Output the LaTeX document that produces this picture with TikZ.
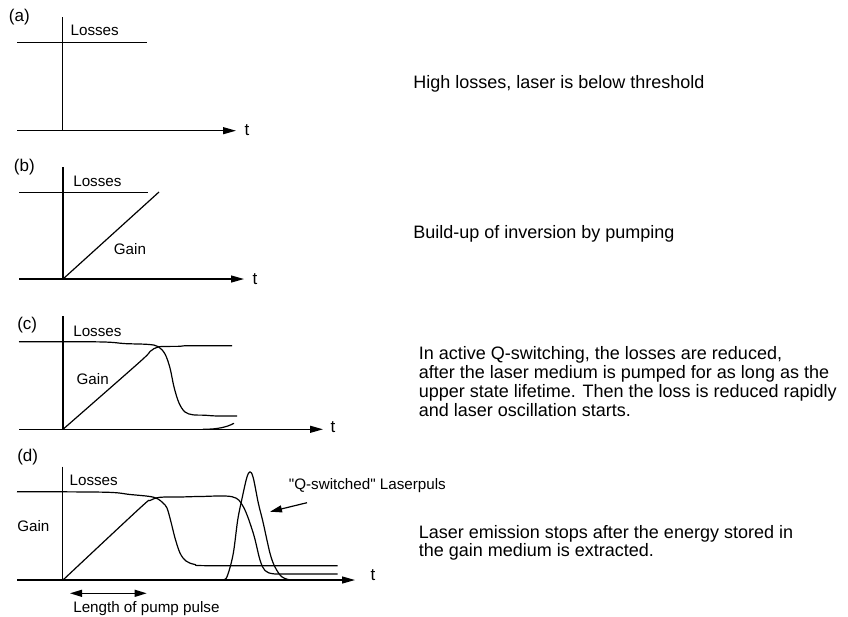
\documentclass[tikz,border=0pt]{standalone}
\usepackage{fontspec}
\setmainfont{Liberation Sans}
\newfontfamily\qfont{Liberation Sans}
\usetikzlibrary{arrows.meta}
\begin{document}
\begin{tikzpicture}[x=1pt,y=-1pt, line width=1.2pt, line join=round,
  lbl/.style={inner sep=0pt, anchor=base west, font=\fontsize{15.2}{18}\selectfont},
  tag/.style={inner sep=0pt, anchor=base west, font=\fontsize{17}{20}\selectfont},
  desc/.style={inner sep=0pt, anchor=base west, font=\fontsize{18}{19}\selectfont},
  axisarrow/.style={-{Triangle[length=13pt,width=7pt]}},
  ptr/.style={-{Triangle[length=12pt,width=7pt]}},
  dbl/.style={{Triangle[length=12pt,width=7pt]}-{Triangle[length=12pt,width=7pt]}},
  curve/.style={smooth, tension=0.55}]
\path[use as bounding box] (0,0) rectangle (848,616);

% ---------- (a)
\node[tag] (ta) at (8.3,21.5) {(a)};
\coordinate (a0) at (62.7,130.7);
\coordinate (atop) at (62.7,17);
\coordinate (aleft) at (17,130.7);
\coordinate (aend) at (236,130.7);
\draw (atop) -- (a0);
\draw[axisarrow] (aleft) -- (aend);
\coordinate (aL1) at (17,42.3);
\coordinate (aL2) at (147,42.3);
\draw (aL1) -- (aL2);
\node[lbl] (aloss) at (70,35.7) {Losses};
\node[tag] (at) at (244,135) {t};
\node[desc] (adesc) at (412.7,88.3) {High losses, laser is below threshold};

% ---------- (b)
\node[tag] (tb) at (13.3,171.5) {(b)};
\coordinate (b0) at (63,279);
\coordinate (btop) at (63,167);
\coordinate (bleft) at (19,279);
\coordinate (bend) at (244,279);
\draw (btop) -- (b0);
\draw[axisarrow] (bleft) -- (bend);
\coordinate (bL1) at (19,192.7);
\coordinate (bL2) at (148,192.7);
\draw (bL1) -- (bL2);
\coordinate (bG) at (159,192);
\draw (b0) -- (bG);
\node[lbl] (bloss) at (72.7,186) {Losses};
\node[lbl] (bgain) at (113.3,254.3) {Gain};
\node[tag] (bt) at (252,284) {t};
\node[desc] (bdesc) at (412.7,238.3) {Build-up of inversion by pumping};

% ---------- (c)
\node[tag] (tc) at (16.7,329.5) {(c)};
\coordinate (c0) at (63,429.3);
\coordinate (ctop) at (63,316);
\coordinate (cleft) at (19,429.3);
\coordinate (cend) at (323,429.3);
\draw (ctop) -- (c0);
\draw[axisarrow] (cleft) -- (cend);
% losses
\draw plot[curve] coordinates {(19,341.7) (100,341.9) (125,343.6) (148,344.4) (158,346.5) (165,354) (170,368) (174,387) (179,403) (185,412) (193,414.8) (205,415.2) (215,415.9) (237,415.9)};
% gain
\draw plot[curve] coordinates {(63,429.3) (140,361.7) (150,351.5) (158,347) (170,346.4) (180,346.3) (185,345.7) (200,345.7) (232,345.7)};
% beginning pulse
\draw (203,429.3) .. controls (218,429.3) and (227,427) .. (234,423.3);
\node[lbl] (closs) at (72.7,336) {Losses};
\node[lbl] (cgain) at (76,384) {Gain};
\node[tag] (ct) at (330,432) {t};
\node[desc] (cd1) at (418.3,359) {In active Q-switching, the losses are reduced,};
\node[desc] (cd2) at (418.3,378) {after the laser medium is pumped for as long as the};
\node[desc] (cd3) at (418.3,397) {upper state lifetime. Then the loss is reduced rapidly};
\node[desc] (cd4) at (418.3,416) {and laser oscillation starts.};

% ---------- (d)
\node[tag] (td) at (16.7,461.5) {(d)};
\coordinate (d0) at (62.7,580);
\coordinate (dtop) at (62.7,466.7);
\coordinate (dleft) at (17,580);
\coordinate (dend) at (355,580);
\draw (dtop) -- (d0);
\draw[axisarrow] (dleft) -- (dend);
% losses
\draw plot[curve] coordinates {(17,491.7) (105,492.2) (130,494.5) (150,496.5) (158,499) (163,503) (167,508) (171,522) (175,538) (180,553) (186,561) (195,564.5) (210,565.7) (337.5,565.7)};
% gain
\draw plot[curve] coordinates {(63,580) (140,508) (150,500.5) (160,497.3) (180,497) (200,496.5) (232,496.7) (243.3,506.7) (253.3,533.3) (260,560) (265,570.5) (273.3,573.8) (290,574) (337.5,574)};
% Q-switched pulse
\draw plot[curve] coordinates {(213,580) (224,580) (228,574) (233.3,553.3) (237.7,520) (241.7,500) (246.7,478) (250,471.7) (253.3,478) (258.3,503) (263,522) (270,553.3) (275,567) (281.7,576.7) (290,580)};
\node[lbl] (dloss) at (69,485) {Losses};
\node[lbl] (dgain) at (16.7,531) {Gain};
\node[tag] (dt) at (370,580) {t};
\node[lbl] (qs) at (288.3,489) {\qfont "Q-switched" Laserpuls};
\coordinate (qsA) at (307,502.7);
\coordinate (qsB) at (270,511.7);
\draw[ptr] (qsA) -- (qsB);
\coordinate (pp1) at (70,593.3);
\coordinate (pp2) at (146.7,593.3);
\draw[dbl] (pp1) -- (pp2);
\node[lbl] (pump) at (72.7,612.2) {Length of pump pulse};
\node[desc] (dd1) at (418.3,538.3) {Laser emission stops after the energy stored in};
\node[desc] (dd2) at (418.3,556.8) {the gain medium is extracted.};
\end{tikzpicture}
\end{document}
